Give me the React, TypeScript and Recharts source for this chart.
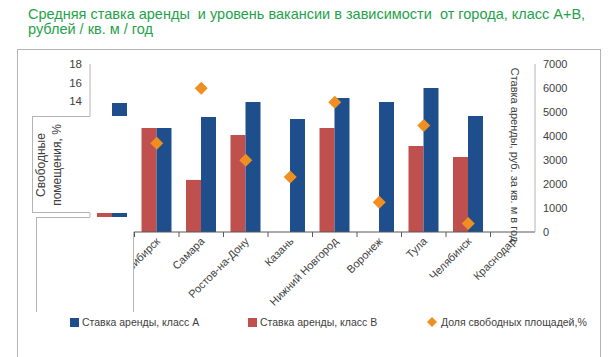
import { ComposedChart, Bar, Line, XAxis, YAxis, Legend } from 'recharts';

// first city: label and most of its bars are hidden in the source image
const cities = ['', 'Новосибирск', 'Самара', 'Ростов-на-Дону', 'Казань', 'Нижний Новгород', 'Воронеж', 'Тула', 'Челябинск', 'Краснодар'];
const rentA = [5380, 4330, 4790, 5420, 4710, 5580, 5420, 6000, 4830, null];
const rentB = [4000, 4330, 2170, 4040, null, 4330, null, 3580, 3130, null];
const vacancy = [null, 9.5, 15.4, 7.7, 5.9, 13.9, 3.2, 11.4, 0.9, null];

const pctTicks = [14, 16, 18];
const rubTicks = [0, 1000, 2000, 3000, 4000, 5000, 6000, 7000];

const NAME_A = 'Ставка аренды, класс А';
const NAME_B = 'Ставка аренды, класс В';
const NAME_V = 'Доля свободных площадей,%';

const data = cities.map((city, i) => ({
  city,
  rentA: rentA[i],
  rentB: rentB[i],
  vacancy: vacancy[i],
}));

const BLUE = '#1f4e8c';
const RED = '#c0504d';
const ORANGE = '#ef8f22';
const GREEN = '#1fa24a';
const TEXT = '#404040';
const GRID = '#b4b4b4';
const AXIS = '#595959';
const FONT = "'Liberation Sans', Arial, sans-serif";

const BAND = 44.5; // plot width / number of cities

function CityTick(props: any) {
  const { x, y, payload } = props;
  const edge = x - BAND / 2;
  const ax = x + 4;
  const ay = y + 10;
  return (
    <g>
      <line x1={edge} x2={edge} y1={y} y2={y + 5} stroke={AXIS} />
      <text
        x={ax}
        y={ay}
        transform={`rotate(-45 ${ax} ${ay})`}
        textAnchor="end"
        fontSize={11}
        fill={TEXT}
      >
        {payload.value}
      </text>
    </g>
  );
}

function Diamond(props: any) {
  const { cx, cy, value } = props;
  if (cx == null || cy == null || value == null) return null;
  const r = 6.5;
  return (
    <path
      d={`M${cx},${cy - r}L${cx + r},${cy}L${cx},${cy + r}L${cx - r},${cy}Z`}
      fill={ORANGE}
    />
  );
}

const legendOrder = ['rentA', 'rentB', 'vacancy'];
const legendLeft = [70, 248, 427];

function LegendContent(props: any) {
  const items = legendOrder.map((k) => props.payload.find((p: any) => p.dataKey === k)).filter(Boolean);
  return (
    <div style={{ position: 'relative', height: 16, fontSize: 10.5, color: TEXT }}>
      {items.map((it: any, i: number) => (
        <div
          key={it.dataKey}
          style={{ position: 'absolute', left: legendLeft[i], top: 0, display: 'flex', alignItems: 'center', height: 16, whiteSpace: 'nowrap' }}
        >
          {it.dataKey === 'vacancy' ? (
            <svg width={10} height={10} style={{ marginRight: 4 }}>
              <path d="M5,0L10,5L5,10L0,5Z" fill={ORANGE} />
            </svg>
          ) : (
            <span style={{ width: 9, height: 9, background: it.color, marginRight: 3 }} />
          )}
          <span>{it.value}</span>
        </div>
      ))}
    </div>
  );
}

function RightLabel(props: any) {
  const vb = props.viewBox;
  const lx = vb.x - 20;
  const ly = vb.y + vb.height / 2 + 7;
  return (
    <text
      x={lx}
      y={ly}
      transform={`rotate(90 ${lx} ${ly})`}
      textAnchor="middle"
      dominantBaseline="central"
      fontSize={11}
      fill={TEXT}
    >
      Ставка аренды, руб. за кв. м в год
    </text>
  );
}

const line = (style: any) => <div style={{ position: 'absolute', background: GRID, ...style }} />;

export default function App() {
  return (
    <div style={{ position: 'absolute', left: 0, top: 0, width: 613, height: 357, overflow: 'hidden', background: '#fff', fontFamily: FONT }}>
      <div style={{ position: 'absolute', left: 28, top: 7, fontSize: 14.5, lineHeight: '15px', color: GREEN, whiteSpace: 'nowrap' }}>
        Средняя ставка аренды&nbsp; и уровень вакансии в зависимости&nbsp; от города, класс А+В,
        <br />
        рублей / кв. м / год
      </div>
      <div
        style={{
          position: 'absolute', left: 17, top: 49, width: 584, height: 320, boxSizing: 'border-box',
          borderLeft: `1px solid ${GRID}`, borderTop: `1px solid ${GRID}`, borderRight: `1px solid ${GRID}`,
        }}
      />
      <div style={{ position: 'absolute', left: 0, top: 0 }}>
        <ComposedChart
          width={613}
          height={357}
          data={data}
          margin={{ top: 64, right: 18, bottom: 45, left: 50 }}
          barGap={0}
        >
          <XAxis
            dataKey="city"
            interval={0}
            tickSize={0}
            tickMargin={0}
            tickLine={false}
            height={80}
            axisLine={{ stroke: AXIS }}
            tick={(p: any) => <CityTick {...p} />}
          />
          <XAxis
            xAxisId="top"
            orientation="top"
            dataKey="city"
            height={0}
            tick={false}
            tickLine={false}
            axisLine={{ stroke: GRID }}
          />
          <YAxis
            yAxisId="pct"
            domain={[0, 18]}
            ticks={pctTicks}
            width={40}
            tickLine={false}
            axisLine={{ stroke: GRID }}
            tick={{ fontSize: 11.5, fill: TEXT }}
          />
          <YAxis
            yAxisId="rub"
            orientation="right"
            domain={[0, 7000]}
            ticks={rubTicks}
            width={60}
            tickLine={false}
            axisLine={{ stroke: GRID }}
            tick={{ fontSize: 11, fill: TEXT, textAnchor: 'start' }}
            label={{ content: (p: any) => <RightLabel {...p} /> }}
          />
          <Bar yAxisId="rub" dataKey="rentB" name={NAME_B} fill={RED} barSize={15} isAnimationActive={false} />
          <Bar yAxisId="rub" dataKey="rentA" name={NAME_A} fill={BLUE} barSize={15} isAnimationActive={false} />
          <Line
            yAxisId="pct"
            dataKey="vacancy"
            name={NAME_V}
            stroke="none"
            legendType="diamond"
            dot={(p: any) => <Diamond key={p.index} {...p} />}
            activeDot={false}
            isAnimationActive={false}
          />
          <Legend
            layout="horizontal"
            verticalAlign="middle"
            align="center"
            wrapperStyle={{ left: 0, top: 314, width: 613, zIndex: 3 }}
            content={(p: any) => <LegendContent {...p} />}
          />
        </ComposedChart>
      </div>
      {/* white patches with grey edges, as in the source screenshot */}
      <div style={{ position: 'absolute', left: 32, top: 116, width: 102, height: 97, background: '#fff', zIndex: 2 }}>
        {line({ left: 0, top: 0, width: 1, height: 97 })}
        {line({ left: 0, top: 0, width: 58, height: 1 })}
        {line({ left: 0, top: 96, width: 58, height: 1 })}
        <div
          style={{
            position: 'absolute', left: 17, top: 49, transform: 'translate(-50%, -50%) rotate(-90deg)',
            whiteSpace: 'nowrap', textAlign: 'center', fontSize: 12, lineHeight: '16px', color: TEXT,
          }}
        >
          Свободные
          <br />
          помещения, %
        </div>
      </div>
      <div style={{ position: 'absolute', left: 36, top: 217, width: 98, height: 95, background: '#fff', zIndex: 2 }}>
        {line({ left: 0, top: 0, width: 1, height: 95 })}
        {line({ left: 0, top: 0, width: 54, height: 1 })}
        {line({ left: 97, top: 15, width: 1, height: 80 })}
      </div>
    </div>
  );
}
